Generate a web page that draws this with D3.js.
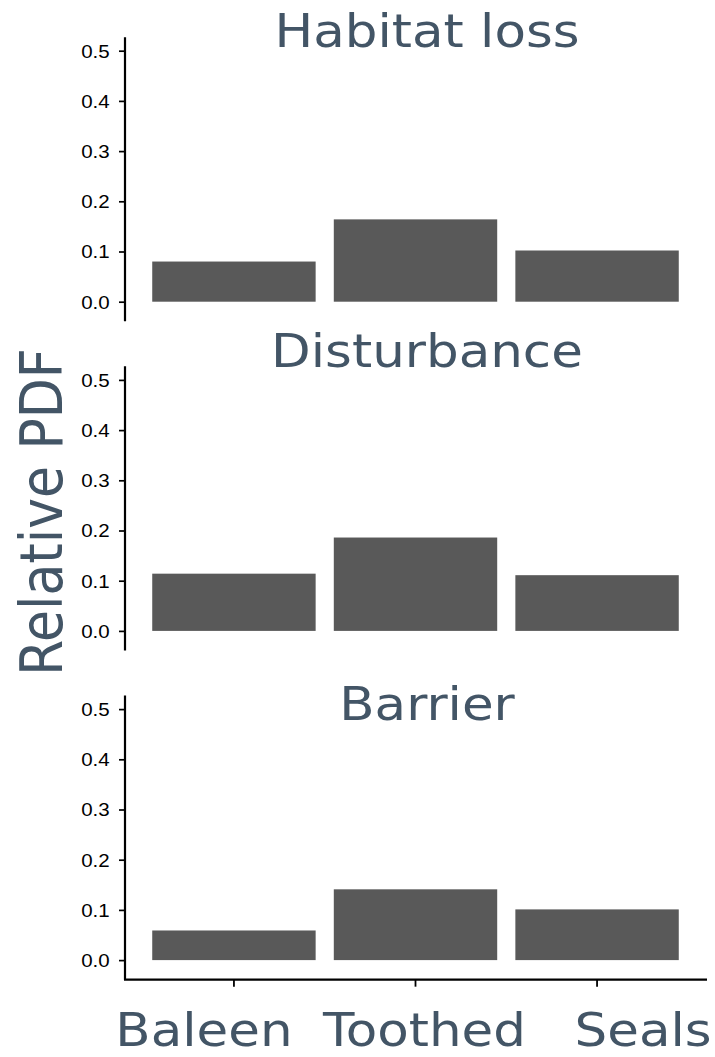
<!DOCTYPE html>
<html>
<head>
<meta charset="utf-8">
<script src="https://cdn.jsdelivr.net/npm/d3@7/dist/d3.min.js"></script>
<style>
  html, body { margin: 0; padding: 0; background: #fff; }
  svg { display: block; }
</style>
</head>
<body>
<svg id="chart" width="715" height="1057"></svg>
<script>
// Species groups on the x axis
const groups = ["Baleen", "Toothed", "Seals"];

// One panel per pressure type
const pressures = ["Habitat loss", "Disturbance", "Barrier"];

// Relative PDF per group, one array per pressure
const habitatLoss = [0.080, 0.164, 0.102];
const disturbance = [0.114, 0.186, 0.111];
const barrier     = [0.059, 0.141, 0.101];

// y-axis tick values
const yTicks = [0.0, 0.1, 0.2, 0.3, 0.4, 0.5];

const panelValues = [habitatLoss, disturbance, barrier];

// ---- layout ----
const axisX = 125, axisRight = 706;
const zeroY = [301.7, 630.9, 960.1];        // pixel row of y = 0 in each panel
const pxPerUnit = 502;                       // pixels per 1.0 of PDF
const yLo = -0.039, yHi = 0.527;            // extent of each y axis line
const titleBaseline = [47, 367, 720];
const titleX = 427;
const stretch = 1.12;                        // horizontal text stretch
const textColor = "#435566";
const barColor = "#595959";
const fontTitle = "'DejaVu Sans', Verdana, sans-serif";
const fontTick = "'Liberation Sans', Arial, Helvetica, sans-serif";

const svg = d3.select("#chart");

const x = d3.scaleBand()
  .domain(groups)
  .range([axisX, axisRight])
  .paddingInner(0.1)
  .paddingOuter(0.15);

pressures.forEach((name, i) => {
  const values = panelValues[i];
  const y = d3.scaleLinear()
    .domain([0, 0.5])
    .range([zeroY[i], zeroY[i] - 0.5 * pxPerUnit]);

  const g = svg.append("g");

  // bars
  g.selectAll("rect.bar")
    .data(groups.map((grp, j) => ({ grp, v: values[j] })))
    .join("rect")
    .attr("class", "bar")
    .attr("x", d => x(d.grp))
    .attr("width", x.bandwidth())
    .attr("y", d => y(d.v))
    .attr("height", d => y(0) - y(d.v))
    .attr("fill", barColor);

  // y axis
  const yAxis = d3.axisLeft(y)
    .tickValues(yTicks)
    .tickFormat(d3.format(".1f"))
    .tickSize(6)
    .tickPadding(6);

  const ax = g.append("g")
    .attr("transform", `translate(${axisX},0)`)
    .call(yAxis);
  ax.select(".domain").remove();
  ax.selectAll(".tick line").attr("stroke", "#000").attr("stroke-width", 1.7);
  ax.selectAll(".tick text")
    .attr("fill", "#000")
    .attr("font-family", fontTick)
    .attr("font-size", 18)
    .attr("dy", "0.35em")
    .attr("transform", function () {
      const tx = +d3.select(this).attr("x");
      return `translate(${tx * (1.14 - 1)},0) scale(1.14,1)`;
    });

  // y axis line
  g.append("line")
    .attr("x1", axisX).attr("x2", axisX)
    .attr("y1", y(yHi)).attr("y2", y(yLo))
    .attr("stroke", "#000").attr("stroke-width", 2.2);

  // panel title
  g.append("text")
    .attr("transform", `translate(${titleX},${titleBaseline[i]}) scale(${stretch},1)`)
    .attr("text-anchor", "middle")
    .attr("font-family", fontTitle)
    .attr("font-size", 46)
    .attr("fill", textColor)
    .text(name);

  // x axis on the bottom panel only
  if (i === pressures.length - 1) {
    const axY = y(yLo);
    const xAxis = d3.axisBottom(x).tickSize(7).tickFormat("");
    const xa = g.append("g")
      .attr("transform", `translate(0,${axY})`)
      .call(xAxis);
    xa.select(".domain").remove();
    xa.selectAll(".tick line").attr("stroke", "#000").attr("stroke-width", 1.8);
    g.append("line")
      .attr("x1", axisX - 1).attr("x2", axisRight + 1)
      .attr("y1", axY).attr("y2", axY)
      .attr("stroke", "#000").attr("stroke-width", 2.2);
  }
});

// group labels under the x axis
const labelNudge = [-30, 9, 46];
svg.append("g")
  .selectAll("text")
  .data(groups)
  .join("text")
  .attr("transform", (d, j) =>
    `translate(${x(d) + x.bandwidth() / 2 + labelNudge[j]},1046) scale(${stretch},1)`)
  .attr("text-anchor", "middle")
  .attr("font-family", fontTitle)
  .attr("font-size", 46)
  .attr("fill", textColor)
  .text(d => d);

// shared y axis title
svg.append("text")
  .attr("transform", `translate(62,512) scale(${stretch},1) rotate(-90)`)
  .attr("text-anchor", "middle")
  .attr("font-family", fontTitle)
  .attr("font-size", 52)
  .attr("fill", textColor)
  .text("Relative PDF");
</script>
</body>
</html>
